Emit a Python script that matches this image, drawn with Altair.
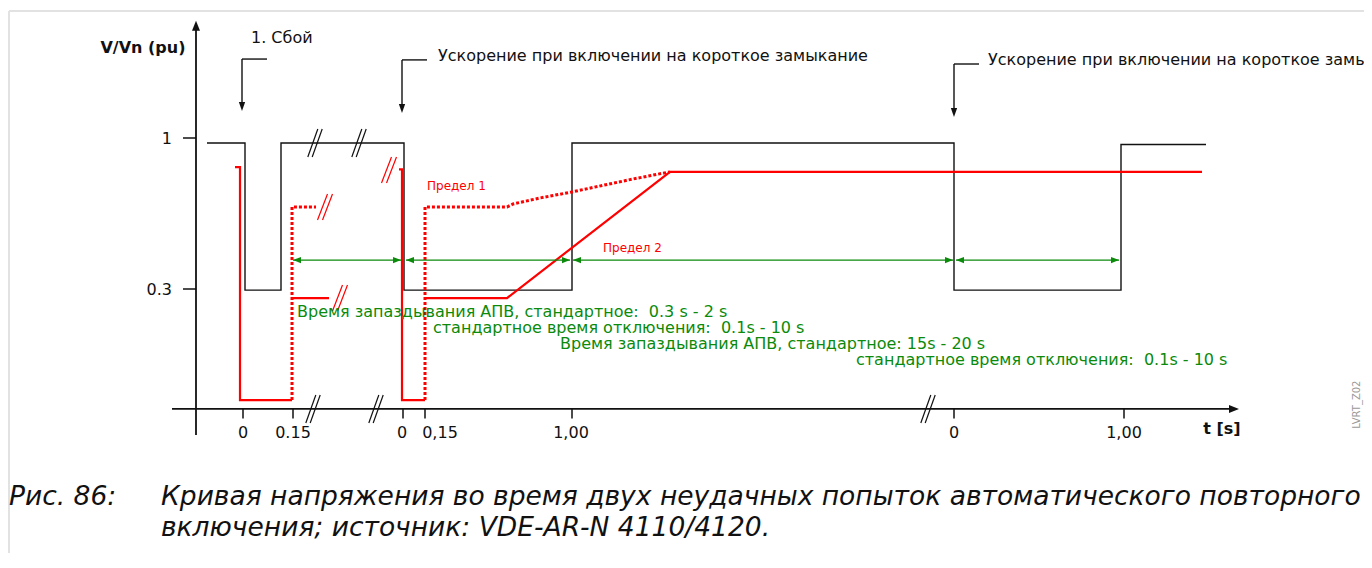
import altair as alt
import pandas as pd

W, H = 1356, 545
PX_PER_PU = 151 / 0.7          # vertical pixels per 1 pu (used only for glyph offsets)
FONT = "DejaVu Sans"
BLACK, RED, GREEN, GREY = "#111111", "#ff0000", "#0b8a0b", "#e2e2e2"

# ---------------- data (x: schematic time position, y: V/Vn in pu) ----------------
volt_x = [207, 245, 245, 281, 281, 404, 404, 572, 572, 954, 954, 1121, 1121, 1206]
volt_y = [0.977, 0.977, 0.295, 0.295, 0.977, 0.977, 0.295, 0.295, 0.977, 0.977, 0.295, 0.295, 0.970, 0.970]

# "Предел 2" (solid red)
lim2_a_x = [235, 240, 240, 292]
lim2_a_y = [0.865, 0.865, -0.215, -0.215]
lim2_b_x = [292, 329]
lim2_b_y = [0.258, 0.258]
lim2_c_x = [399, 402, 402, 425]
lim2_c_y = [0.855, 0.855, -0.215, -0.215]
lim2_d_x = [425, 507, 670, 1202]
lim2_d_y = [0.258, 0.258, 0.843, 0.843]

# "Предел 1" (dotted red)
lim1_a_x = [292, 292, 316]
lim1_a_y = [-0.215, 0.680, 0.680]
lim1_b_x = [425, 425, 507, 513, 540, 572, 633, 670]
lim1_b_y = [-0.215, 0.680, 0.680, 0.694, 0.722, 0.750, 0.810, 0.843]

# green time spans
span_start = [293, 406, 573, 956]
span_end = [401, 570, 953, 1119]
span_level = 0.434

green_text = ["Время запаздывания АПВ, стандартное:\u00a0 0.3 s - 2 s",
              "стандартное время отключения:\u00a0 0.1s - 10 s",
              "Время запаздывания АПВ, стандартное: 15s - 20 s",
              "стандартное время отключения:\u00a0 0.1s - 10 s"]
green_text_x = [297, 433, 560, 856]
green_text_y = [0.193, 0.119, 0.045, -0.029]

# annotation arrows
ann_x = [242, 402, 954]
ann_top = [1.366, 1.362, 1.343]
ann_tip = [1.125, 1.116, 1.097]
ann_text = ["1. Сбой",
            "Ускорение при включении на короткое замыкание",
            "Ускорение при включении на короткое замыкание"]
ann_text_x = [251, 438, 988]
ann_text_y = [1.464, 1.380, 1.360]

# axes
x_axis_y = -0.256
x_axis_from, x_axis_tip = 172, 1239
y_axis_x = 196
y_axis_from, y_axis_tip = -0.377, 1.543
x_tick_pos = [243, 293, 403, 425, 572, 954, 1124]
x_tick_lab_x = [243, 293, 402, 440, 571, 954, 1124]
x_tick_lab = ["0", "0.15", "0", "0,15", "1,00", "0", "1,00"]
y_tick_val = [1.0, 0.3]
y_tick_lab = ["1", "0.3"]

# breaks "//"
black_break_x = [315, 359, 313, 376, 928]
black_break_y = [0.977, 0.977, -0.256, -0.256, -0.256]
red_break_x = [325, 340, 389]
red_break_y = [0.680, 0.258, 0.852]

red_labels = ["Предел 1", "Предел 2"]
red_label_x = [427, 603]
red_label_y = [0.778, 0.489]

caption_text = ["Рис. 86:",
                "Кривая напряжения во время двух неудачных попыток автоматического повторного",
                "включения; источник: VDE-AR-N 4110/4120."]
caption_x = [9, 161, 161]
caption_y = [-0.662, -0.662, -0.806]

# ---------------- helpers ----------------
Y_TOP = (353.714 - 8) / PX_PER_PU
Y_BOT = (353.714 - 8 - H) / PX_PER_PU
xs = alt.Scale(domain=[8, 8 + W], nice=False, zero=False)
ys = alt.Scale(domain=[Y_BOT, Y_TOP], nice=False, zero=False)


def X():
    return alt.X("x:Q", scale=xs, axis=None)


def Y():
    return alt.Y("y:Q", scale=ys, axis=None)


def lines(paths, **mk):
    rows = []
    for k, (px, py) in enumerate(paths):
        for i, (a, b) in enumerate(zip(px, py)):
            rows.append({"seg": k, "i": i, "x": a, "y": b})
    return alt.Chart(pd.DataFrame(rows)).mark_line(interpolate="linear", **mk).encode(
        x=X(), y=Y(), detail="seg:N", order="i:Q")


def segs(x1, y1, x2, y2, **mk):
    df = pd.DataFrame({"x": x1, "y": y1, "x2": x2, "y2": y2})
    return alt.Chart(df).mark_rule(strokeCap="butt", **mk).encode(
        x=X(), y=Y(), x2="x2:Q", y2="y2:Q")


def heads(x, y, shape, size, color):
    df = pd.DataFrame({"x": x, "y": y})
    return alt.Chart(df).mark_point(shape=shape, size=size, filled=True, color=color,
                                     opacity=1, strokeWidth=0).encode(x=X(), y=Y())


def texts(t, x, y, **mk):
    df = pd.DataFrame({"t": t, "x": x, "y": y})
    opts = dict(font=FONT, baseline="middle")
    opts.update(mk)
    return alt.Chart(df).mark_text(**opts).encode(x=X(), y=Y(), text="t:N")


def breaks(cx, cy, dx, dy, off, **mk):
    x1, y1, x2, y2 = [], [], [], []
    for a, b in zip(cx, cy):
        for o in (-off, off):
            x1.append(a + o - dx)
            y1.append(b - dy / PX_PER_PU)
            x2.append(a + o + dx)
            y2.append(b + dy / PX_PER_PU)
    return segs(x1, y1, x2, y2, **mk)


RIGHT = "M1,0L-1,-0.8L-1,0.8Z"
LEFT = "M-1,0L1,-0.8L1,0.8Z"
UP = "M0,-1L-0.8,1L0.8,1Z"
DOWN = "M0,1L-0.7,-1L0.7,-1Z"

layers = []

# frame (top and left edges of the figure box)
fr_top = 1.589
layers.append(segs([9, 9], [fr_top, fr_top], [8 + W, 9], [fr_top, Y_BOT],
                   color=GREY, strokeWidth=2))

# axes
layers.append(segs([x_axis_from], [x_axis_y], [x_axis_tip - 6], [x_axis_y], color=BLACK, strokeWidth=1.8))
layers.append(heads([x_axis_tip - 5], [x_axis_y], RIGHT, 100, BLACK))
layers.append(segs([y_axis_x], [y_axis_from], [y_axis_x], [y_axis_tip - 6 / PX_PER_PU], color=BLACK, strokeWidth=1.8))
layers.append(heads([y_axis_x], [y_axis_tip - 5 / PX_PER_PU], UP, 100, BLACK))
layers.append(segs(x_tick_pos, [x_axis_y] * len(x_tick_pos), x_tick_pos,
                   [x_axis_y - 9.5 / PX_PER_PU] * len(x_tick_pos), color=BLACK, strokeWidth=1.5))
layers.append(segs([y_axis_x - 13] * 2, y_tick_val, [y_axis_x] * 2, y_tick_val, color=BLACK, strokeWidth=1.5))
layers.append(texts(x_tick_lab, x_tick_lab_x, [-0.367] * len(x_tick_lab), fontSize=16, align="center", color=BLACK))
layers.append(texts(y_tick_lab, [172, 172], [0.996, 0.296], fontSize=16, align="right", color=BLACK))
layers.append(texts(["V/Vn (pu)"], [143], [1.417], fontSize=16, fontWeight="bold", align="center", color=BLACK))
layers.append(texts(["t [s]"], [1222], [-0.349], fontSize=16, fontWeight="bold", align="center", color=BLACK))

# voltage curve
layers.append(lines([(volt_x, volt_y)], color=BLACK, strokeWidth=1.4))

# limits
layers.append(lines([(lim2_a_x, lim2_a_y), (lim2_b_x, lim2_b_y), (lim2_c_x, lim2_c_y), (lim2_d_x, lim2_d_y)],
                    color=RED, strokeWidth=2.2))
layers.append(lines([(lim1_a_x, lim1_a_y), (lim1_b_x, lim1_b_y)],
                    color=RED, strokeWidth=3, strokeDash=[3, 2]))
layers.append(texts(red_labels, red_label_x, red_label_y, fontSize=12, align="left", color=RED))

# breaks
layers.append(breaks(black_break_x, black_break_y, 5, 14, 2.2, color=BLACK, strokeWidth=1.2))
layers.append(breaks(red_break_x, red_break_y, 5, 13, 2.5, color=RED, strokeWidth=1.2))

# green spans
layers.append(segs(span_start, [span_level] * 4, span_end, [span_level] * 4, color=GREEN, strokeWidth=1.4))
layers.append(heads([s + 4 for s in span_start], [span_level] * 4, LEFT, 64, GREEN))
layers.append(heads([e - 4 for e in span_end], [span_level] * 4, RIGHT, 64, GREEN))
layers.append(texts(green_text, green_text_x, green_text_y, fontSize=16, align="left", color=GREEN))

# annotation arrows
layers.append(segs(ann_x, ann_top, [a + 25 for a in ann_x], ann_top, color=BLACK, strokeWidth=1.4))
layers.append(segs(ann_x, ann_top, ann_x, [t + 6 / PX_PER_PU for t in ann_tip], color=BLACK, strokeWidth=1.4))
layers.append(heads(ann_x, [t + 4.5 / PX_PER_PU for t in ann_tip], DOWN, 81, BLACK))
layers.append(texts(ann_text, ann_text_x, ann_text_y, fontSize=16, align="left", color=BLACK))

# side id
layers.append(texts(["LVRT_Z02"], [1357], [-0.236], fontSize=10, align="center", angle=270, color="#9a9a9a"))

# caption
layers.append(texts(caption_text, caption_x, caption_y, fontSize=26.5, fontStyle="italic", align="left",
                    color=BLACK))

chart = alt.layer(*layers).properties(
    width=W, height=H, padding=0, autosize=alt.AutoSizeParams(type="none")
).configure_view(stroke=None)

chart.save("out.html", embed_options={"renderer": "svg", "actions": False})
